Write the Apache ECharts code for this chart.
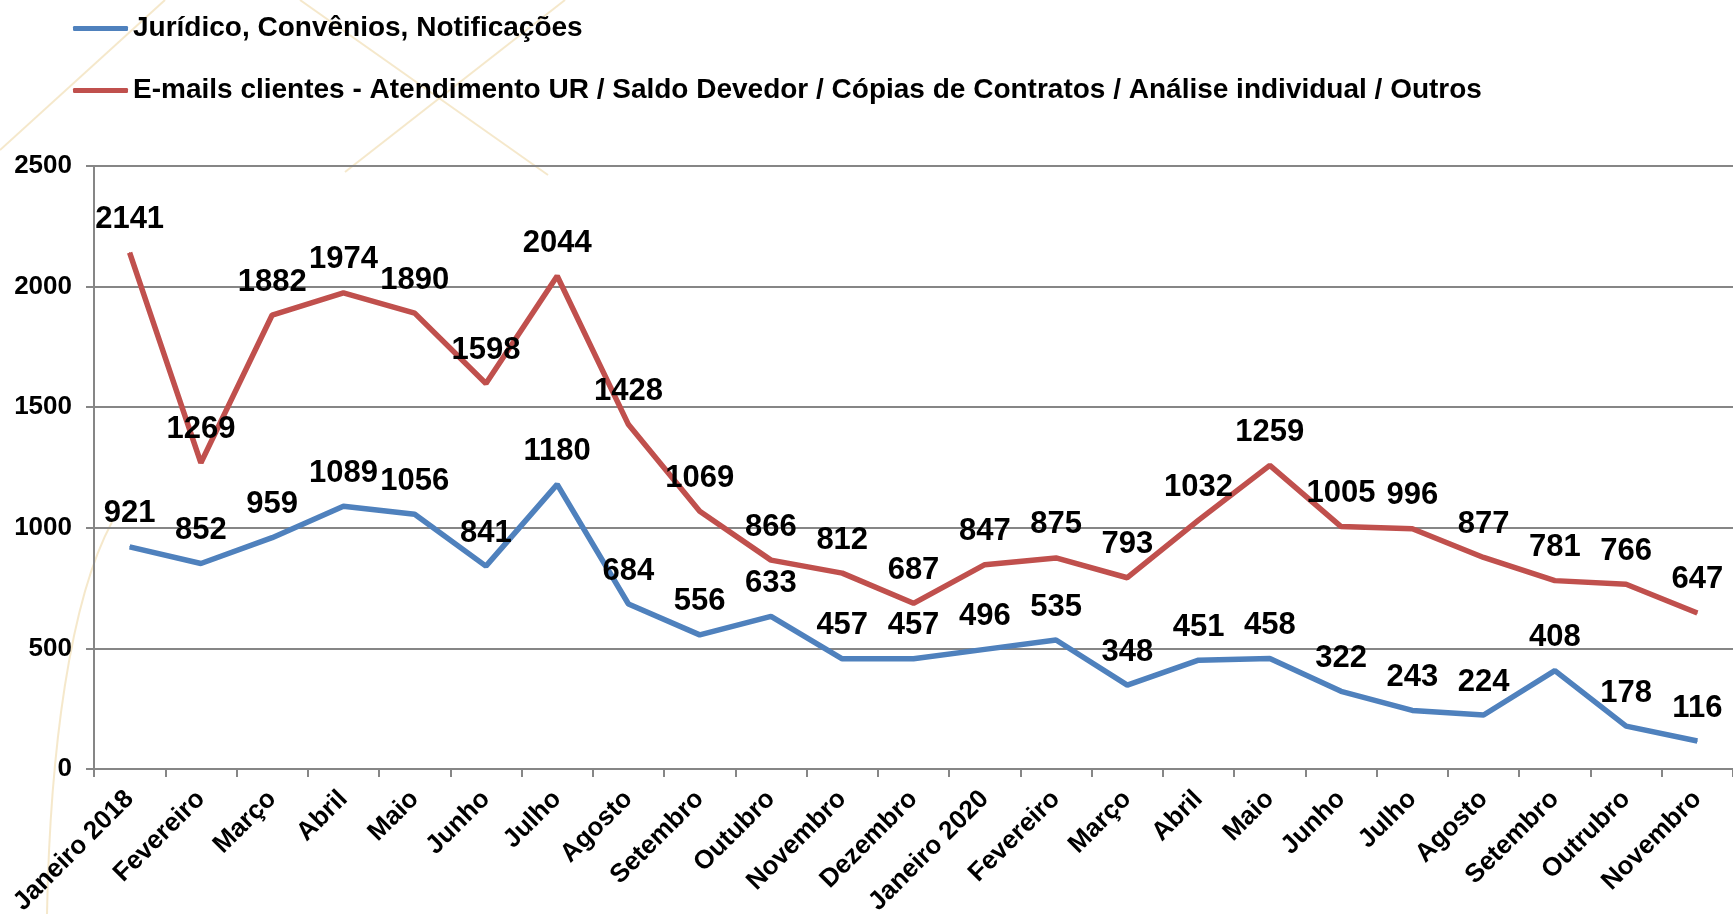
<!DOCTYPE html>
<html>
<head>
<meta charset="utf-8">
<script src="https://cdn.jsdelivr.net/npm/echarts@6/dist/echarts.min.js"></script>
<style>
  html, body { margin: 0; padding: 0; background: #ffffff; }
  #chart { width: 1733px; height: 914px; }
</style>
</head>
<body>
<div id="chart"></div>
<script>
const months = [
  "Janeiro 2018", "Fevereiro", "Março", "Abril", "Maio", "Junho", "Julho",
  "Agosto", "Setembro", "Outubro", "Novembro", "Dezembro",
  "Janeiro 2020", "Fevereiro", "Março", "Abril", "Maio", "Junho", "Julho",
  "Agosto", "Setembro", "Outrubro", "Novembro"
];
const juridico = [921, 852, 959, 1089, 1056, 841, 1180, 684, 556, 633, 457, 457,
  496, 535, 348, 451, 458, 322, 243, 224, 408, 178, 116];
const emails = [2141, 1269, 1882, 1974, 1890, 1598, 2044, 1428, 1069, 866, 812, 687,
  847, 875, 793, 1032, 1259, 1005, 996, 877, 781, 766, 647];
const seriesNames = [
  "Jurídico, Convênios, Notificações",
  "E-mails clientes - Atendimento UR / Saldo Devedor / Cópias de Contratos / Análise individual / Outros"
];

const chart = echarts.init(document.getElementById("chart"));
const font = "'Liberation Sans', Arial, sans-serif";
const gold = "rgba(232, 205, 140, 0.45)";

const labelStyle = {
  show: true,
  position: "top",
  distance: 17,
  color: "#000",
  fontFamily: font,
  fontWeight: "bold",
  fontSize: 31
};

const option = {
  backgroundColor: "#ffffff",
  animation: false,
  graphic: [
    { type: "line", z: -10, shape: { x1: 0, y1: 150, x2: 165, y2: 0 }, style: { stroke: gold, lineWidth: 2 } },
    { type: "line", z: -10, shape: { x1: 300, y1: 0, x2: 548, y2: 175 }, style: { stroke: gold, lineWidth: 2 } },
    { type: "line", z: -10, shape: { x1: 565, y1: 0, x2: 345, y2: 172 }, style: { stroke: gold, lineWidth: 2 } },
    { type: "bezierCurve", z: -10, shape: { x1: 112, y1: 522, x2: 47, y2: 914, cpx1: 70, cpy1: 600, cpx2: 50, cpy2: 750 }, style: { stroke: gold, lineWidth: 2, fill: null } }
  ],
  legend: {
    orient: "vertical",
    left: 68,
    top: 8,
    itemWidth: 55,
    itemHeight: 5,
    itemGap: 31,
    icon: "roundRect",
    data: seriesNames,
    textStyle: {
      color: "#000",
      fontFamily: font,
      fontWeight: "bold",
      fontSize: 28,
      lineHeight: 31
    }
  },
  grid: {
    left: 94,
    right: 0,
    top: 166,
    bottom: 145,
    containLabel: false,
    outerBoundsMode: "none"
  },
  xAxis: {
    type: "category",
    data: months,
    boundaryGap: true,
    axisLine: { lineStyle: { color: "#868686", width: 2 } },
    axisTick: { show: true, length: 8, lineStyle: { color: "#868686", width: 2 } },
    axisLabel: {
      interval: 0,
      rotate: 45,
      margin: 26,
      color: "#000",
      fontFamily: font,
      fontWeight: "bold",
      fontSize: 26
    }
  },
  yAxis: {
    type: "value",
    min: 0,
    max: 2500,
    interval: 500,
    axisLine: { show: true, lineStyle: { color: "#868686", width: 2 } },
    axisTick: { show: true, length: 8, lineStyle: { color: "#868686", width: 2 } },
    splitLine: { lineStyle: { color: "#868686", width: 2 } },
    axisLabel: {
      margin: 22,
      color: "#000",
      fontFamily: font,
      fontWeight: "bold",
      fontSize: 26,
      formatter: (v) => String(v)
    }
  },
  series: [
    {
      name: seriesNames[0],
      type: "line",
      data: juridico,
      symbol: "circle",
      symbolSize: 1,
      lineStyle: { color: "#4f81bd", width: 5.5 },
      itemStyle: { color: "#4f81bd" },
      label: labelStyle
    },
    {
      name: seriesNames[1],
      type: "line",
      data: emails,
      symbol: "circle",
      symbolSize: 1,
      lineStyle: { color: "#c0504d", width: 5.5 },
      itemStyle: { color: "#c0504d" },
      label: labelStyle
    }
  ]
};

chart.setOption(option);
</script>
</body>
</html>
